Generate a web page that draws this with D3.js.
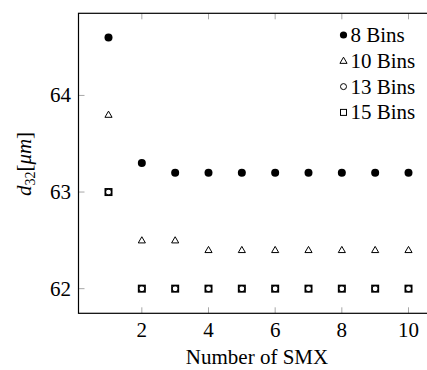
<!DOCTYPE html>
<html>
<head>
<meta charset="utf-8">
<script src="https://cdnjs.cloudflare.com/ajax/libs/d3/7.8.5/d3.min.js"></script>
<style>
  body { margin: 0; background: #fff; }
  svg { font-family: "Liberation Serif", "DejaVu Serif", serif; }
</style>
</head>
<body>
<div id="chart"></div>
<script>
// number of SMX elements
const smx = [1, 2, 3, 4, 5, 6, 7, 8, 9, 10];
// d32 values per bin count
const bins8  = [64.6, 63.3, 63.2, 63.2, 63.2, 63.2, 63.2, 63.2, 63.2, 63.2];
const bins10 = [63.8, 62.5, 62.5, 62.4, 62.4, 62.4, 62.4, 62.4, 62.4, 62.4];
const bins13 = [63.0, 62.0, 62.0, 62.0, 62.0, 62.0, 62.0, 62.0, 62.0, 62.0];
const bins15 = [63.0, 62.0, 62.0, 62.0, 62.0, 62.0, 62.0, 62.0, 62.0, 62.0];
const xTicks = [2, 4, 6, 8, 10];
const yTicks = [62, 63, 64];
const seriesNames = ["8 Bins", "10 Bins", "13 Bins", "15 Bins"];

const W = 427, H = 370;
const FS = 21;
const svg = d3.select("#chart").append("svg")
  .attr("width", W).attr("height", H);

const x = d3.scaleLinear().domain([0.1, 10.9]).range([78.5, 438.5]);
const y = d3.scaleLinear().domain([61.745, 64.85]).range([313.3, 13.3]);

// inner ticks (grey)
const tickLen = 6;
const g = svg.append("g");
xTicks.forEach(t => {
  g.append("line").attr("x1", x(t)).attr("x2", x(t))
    .attr("y1", y.range()[0]).attr("y2", y.range()[0] - tickLen)
    .attr("stroke", "#a8a8a8");
  g.append("line").attr("x1", x(t)).attr("x2", x(t))
    .attr("y1", y.range()[1]).attr("y2", y.range()[1] + tickLen)
    .attr("stroke", "#a8a8a8");
  g.append("text").attr("x", x(t)).attr("y", 337)
    .attr("text-anchor", "middle").attr("font-size", FS).text(t);
});
yTicks.forEach(t => {
  g.append("line").attr("x1", x.range()[0]).attr("x2", x.range()[0] + tickLen)
    .attr("y1", y(t)).attr("y2", y(t)).attr("stroke", "#a8a8a8");
  g.append("text").attr("x", 71).attr("y", y(t) + 7)
    .attr("text-anchor", "end").attr("font-size", FS).text(t);
});

// axis frame
svg.append("rect")
  .attr("x", x.range()[0]).attr("y", y.range()[1])
  .attr("width", x.range()[1] - x.range()[0])
  .attr("height", y.range()[0] - y.range()[1])
  .attr("fill", "none").attr("stroke", "#000").attr("stroke-width", 1.2);

// markers
const tri = d3.symbol().type(d3.symbolTriangle).size(22);
const plot = svg.append("g");

plot.selectAll(".b13").data(bins13).join("circle")
  .attr("cx", (d, i) => x(smx[i])).attr("cy", d => y(d)).attr("r", 3)
  .attr("fill", "#fff").attr("stroke", "#000").attr("stroke-width", 1);

plot.selectAll(".b15").data(bins15).join("rect")
  .attr("x", (d, i) => x(smx[i]) - 3.2).attr("y", d => y(d) - 3.2)
  .attr("width", 6.4).attr("height", 6.4)
  .attr("fill", "none").attr("stroke", "#000").attr("stroke-width", 1.6);

plot.selectAll(".b10").data(bins10).join("path")
  .attr("d", tri)
  .attr("transform", (d, i) => `translate(${x(smx[i])},${y(d) + 0.5})`)
  .attr("fill", "#fff").attr("stroke", "#000").attr("stroke-width", 1);

plot.selectAll(".b8").data(bins8).join("circle")
  .attr("cx", (d, i) => x(smx[i])).attr("cy", d => y(d)).attr("r", 4)
  .attr("fill", "#000");

// legend
const leg = svg.append("g");
seriesNames.forEach((name, i) => {
  const cy = 35 + i * 25.8;
  const mx = 343.5;
  if (i === 0) leg.append("circle").attr("cx", mx).attr("cy", cy).attr("r", 3.6).attr("fill", "#000");
  if (i === 1) leg.append("path").attr("d", tri).attr("transform", `translate(${mx},${cy + 0.5})`)
    .attr("fill", "#fff").attr("stroke", "#000");
  if (i === 2) leg.append("circle").attr("cx", mx).attr("cy", cy).attr("r", 3)
    .attr("fill", "#fff").attr("stroke", "#000");
  if (i === 3) leg.append("rect").attr("x", mx - 3).attr("y", cy - 3).attr("width", 6).attr("height", 6)
    .attr("fill", "#fff").attr("stroke", "#000");
  leg.append("text").attr("x", 350.5).attr("y", cy + 7)
    .attr("font-size", FS).text(name);
});

// axis labels
svg.append("text").attr("x", 257).attr("y", 364)
  .attr("text-anchor", "middle").attr("font-size", FS).text("Number of SMX");

const yl = svg.append("text")
  .attr("transform", "translate(31,164) rotate(-90)")
  .attr("text-anchor", "middle").attr("font-size", FS);
yl.append("tspan").attr("font-style", "italic").text("d");
yl.append("tspan").attr("font-size", 14).attr("dy", 4).text("32");
yl.append("tspan").attr("dy", -4).text("[");
yl.append("tspan").attr("font-style", "italic").text("μm");
yl.append("tspan").text("]");
</script>
</body>
</html>
